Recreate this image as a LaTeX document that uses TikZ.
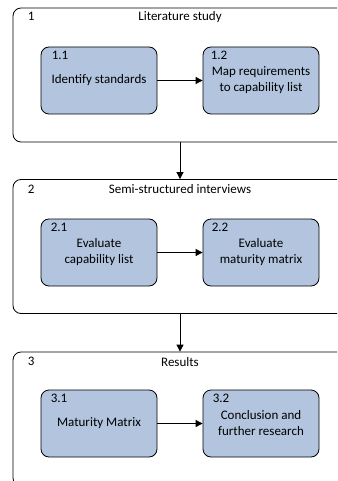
\documentclass[tikz,border=0pt]{standalone}
\usepackage{fontspec}
\setmainfont{Carlito}
\usetikzlibrary{arrows.meta}
\definecolor{taskblue}{RGB}{178,196,222}
\tikzset{
  stage/.style={draw, rounded corners=8pt, minimum width=334pt, minimum height=134pt, line width=0.8pt},
  task/.style={draw, fill=taskblue, rounded corners=8pt, minimum width=116pt, minimum height=67pt, align=center, line width=0.8pt},
  tag/.style={anchor=west, inner sep=0pt},
  flow/.style={-{Triangle[length=7pt,width=7pt]}, line width=0.8pt}
}
\begin{document}
\begin{tikzpicture}[x=1pt,y=-1pt,font=\fontsize{13}{16}\selectfont]
  \useasboundingbox (0,0) rectangle (337,481);
  \clip (0,0) rectangle (337,481);
  % stages
  \node[stage] (s1) at (180,75) {};
  \node[stage] (s2) at (180,246.5) {};
  \node[stage] (s3) at (180,419) {};
  \node[tag] at ([xshift=15pt,yshift=-9pt]s1.north west) {1};
  \node[tag] at ([xshift=15pt,yshift=-10pt]s2.north west) {2};
  \node[tag] at ([xshift=15pt,yshift=-10pt]s3.north west) {3};
  \node[inner sep=0pt] at ([yshift=-9pt]s1.north) {Literature study};
  \node[inner sep=0pt] at ([yshift=-10pt]s2.north) {Semi-structured interviews};
  \node[inner sep=0pt] at ([yshift=-10pt]s3.north) {Results};
  % tasks
  \node[task] (t11) at (99,80.5) {Identify standards};
  \node[task] (t12) at (261,80.5) {Map requirements\\to capability list};
  \node[task] (t21) at (99,252.5) {Evaluate\\capability list};
  \node[task] (t22) at (261,252.5) {Evaluate\\maturity matrix};
  \node[task] (t31) at (99,423.5) {Maturity Matrix};
  \node[task] (t32) at (261,423.5) {Conclusion and\\further research};
  \node[tag] at ([xshift=11pt,yshift=-9pt]t11.north west) {1.1};
  \node[tag] at ([xshift=8pt,yshift=-9pt]t12.north west) {1.2};
  \node[tag] at ([xshift=10pt,yshift=-9pt]t21.north west) {2.1};
  \node[tag] at ([xshift=9pt,yshift=-9pt]t22.north west) {2.2};
  \node[tag] at ([xshift=10pt,yshift=-9pt]t31.north west) {3.1};
  \node[tag] at ([xshift=10pt,yshift=-9pt]t32.north west) {3.2};
  \begin{scope}[flow]
    \draw (s1) to (s2);
    \draw (s2) to (s3);
    \draw (t11) to (t12);
    \draw (t21) to (t22);
    \draw (t31) to (t32);
  \end{scope}
\end{tikzpicture}
\end{document}
